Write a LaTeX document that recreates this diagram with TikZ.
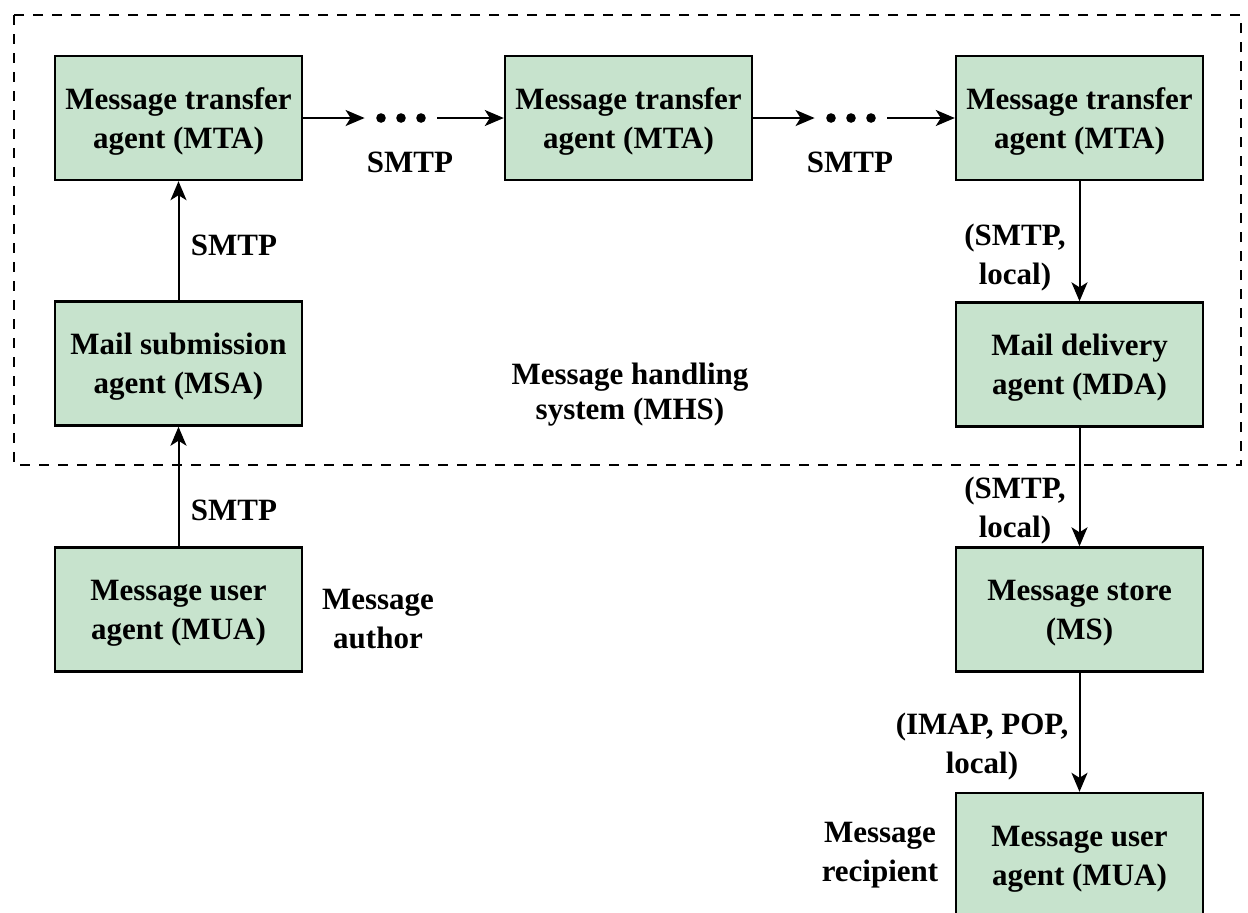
\documentclass[tikz,border=0pt]{standalone}
\usepackage{fontspec}
\setmainfont{Liberation Serif}
\usepackage{tikz}
\usetikzlibrary{positioning,arrows.meta}
\definecolor{agentgreen}{RGB}{199,227,205}
\newcommand{\agentstrut}{\rule{0pt}{14pt}}

\begin{document}
\begin{tikzpicture}[
  x=0.5pt, y=-0.5pt,
  font=\fontsize{15.5}{19.5}\selectfont\bfseries,
  agent/.style={draw, line width=1.2pt, fill=agentgreen, align=center, minimum width=123.5pt, minimum height=62pt, inner sep=2pt},
  lbl/.style={align=center, inner sep=0pt},
  dotsbox/.style={minimum width=36pt, minimum height=6pt, inner sep=0pt},
  arr/.style={-{Stealth[length=9.5pt, width=8pt, inset=2.5pt]}, line width=1pt},
  mhsline/.style={dash pattern=on 5pt off 4.5pt, line width=1.2pt}]
\useasboundingbox (0,0) rectangle (1248,912);
\clip (0,0) rectangle (1248,912);

% message handling system
\draw[mhsline] (14,15) rectangle (1241,465);
\node[lbl] (mhs) at (630,395) {Message handling\\[-2pt]system (MHS)};

% agents
\node[agent] (mtaA) at (178.5,118) {\agentstrut Message transfer\\agent (MTA)};
\node[agent] (mtaB) at (628.5,118) {\agentstrut Message transfer\\agent (MTA)};
\node[agent] (mtaC) at (1079.5,118) {\agentstrut Message transfer\\agent (MTA)};
\node[agent] (msa) at (178.5,363.5) {\agentstrut Mail submission\\agent (MSA)};
\node[agent] (muaA) at (178.5,609.5) {\agentstrut Message user\\agent (MUA)};
\node[agent] (mda) at (1079.5,364.5) {\agentstrut Mail delivery\\agent (MDA)};
\node[agent] (ms) at (1079.5,609.5) {\agentstrut Message store\\(MS)};
\node[agent] (muaB) at (1079.5,855) {\agentstrut Message user\\agent (MUA)};

% relay dots
\node[dotsbox] (dotsA) at (401,118) {};
\node[dotsbox] (dotsB) at (851,118) {};
\foreach \n in {dotsA,dotsB}
  \foreach \dx in {-20,0,20}
    \fill ([xshift=\dx*0.5pt]\n.center) circle (2.4pt);

% people
\node[lbl] (author) at (378,619) {Message\\author};
\node[lbl] (recip) at (880,855) {Message\\recipient};

% connectors
\draw[arr] (mtaA) -- (dotsA);
\draw[arr] (dotsA) -- (mtaB);
\draw[arr] (mtaB) -- (dotsB);
\draw[arr] (dotsB) -- (mtaC);
\draw[arr] (muaA) -- (msa);
\draw[arr] (msa) -- (mtaA);
\draw[arr] (mtaC) -- (mda);
\draw[arr] (mda) -- (ms);
\draw[arr] (ms) -- (muaB);

% protocol labels
\node[lbl] at (410,162) {SMTP};
\node[lbl] at (850,162) {SMTP};
\node[lbl] at (234,245) {SMTP};
\node[lbl] at (234,510) {SMTP};
\node[lbl] at (1015,258) {(SMTP,\\local)};
\node[lbl] at (1015,511) {(SMTP,\\local)};
\node[lbl] at (982,747) {(IMAP, POP,\\local)};
\end{tikzpicture}
\end{document}
